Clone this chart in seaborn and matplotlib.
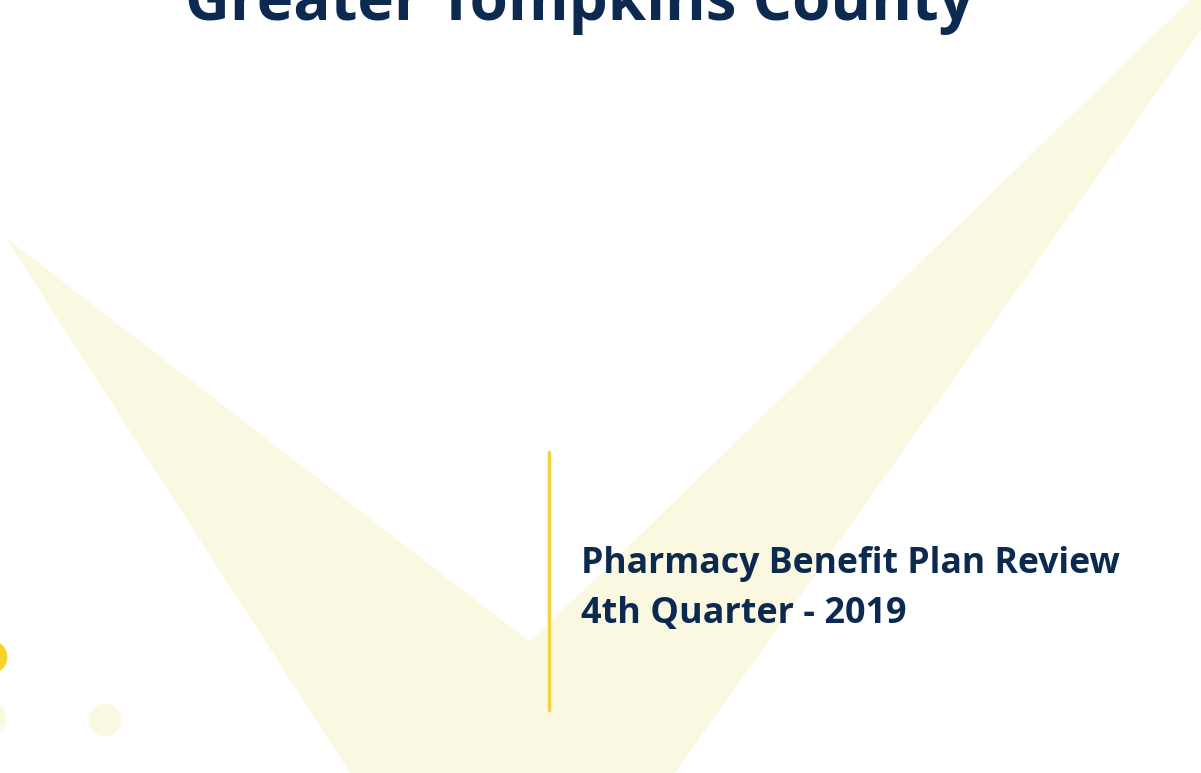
import matplotlib
matplotlib.use("Agg")
import matplotlib.pyplot as plt
import seaborn as sns
import pandas as pd
from matplotlib.patches import Polygon

# Slide texts
title_text = "Greater Tompkins County"
subtitle_lines = ["Pharmacy Benefit Plan Review", "4th Quarter - 2019"]

# Background check-mark shape (pixel coordinates of the slide)
check_x = [5, 530, 1190, 1201, 1201, 675, 350]
check_y = [237, 642, 0, 0, 30, 773, 773]

# Decorative dots at the lower left
dot_x = [-9, -10, 105]
dot_y = [657, 718, 720]
dot_kind = ["bright", "pale", "pale"]

navy = "#0C2A50"
pale = "#FBF8E2"
bright = "#FAD02A"
line_yellow = "#F5D23F"

sns.set_theme(style="white")
plt.rcParams["font.family"] = ["Open Sans", "DejaVu Sans"]

W, H = 1201, 773
fig = plt.figure(figsize=(W / 100, H / 100), dpi=100)
ax = fig.add_axes([0, 0, 1, 1])
ax.set_xlim(0, W)
ax.set_ylim(H, 0)
ax.axis("off")

ax.add_patch(Polygon(list(zip(check_x, check_y)), closed=True,
                     facecolor=pale, edgecolor="none", zorder=1))

dots = pd.DataFrame({"x": dot_x, "y": dot_y, "kind": dot_kind})
sns.scatterplot(data=dots, x="x", y="y", hue="kind",
                palette={"bright": bright, "pale": pale},
                s=560, linewidth=0, legend=False, ax=ax, zorder=2)
ax.set_xlim(0, W)
ax.set_ylim(H, 0)
ax.axis("off")

# vertical divider
ax.plot([549, 549], [452, 710], color=line_yellow, lw=2.5,
        solid_capstyle="round", zorder=3)

renderer = fig.canvas.get_renderer()


def fit_text(x, y, s, width, size0=30, **kw):
    t = ax.text(x, y, s, fontsize=size0, fontweight="bold", color=navy,
                va="baseline", ha="left", zorder=4, **kw)
    w = t.get_window_extent(renderer).width
    t.set_fontsize(size0 * width / w)
    return t


fit_text(185, 20, title_text, 790, size0=50)
fit_text(581, 573, subtitle_lines[0], 539)
fit_text(581, 623, subtitle_lines[1], 326)

fig.savefig("out.png", dpi=100, facecolor="white")
